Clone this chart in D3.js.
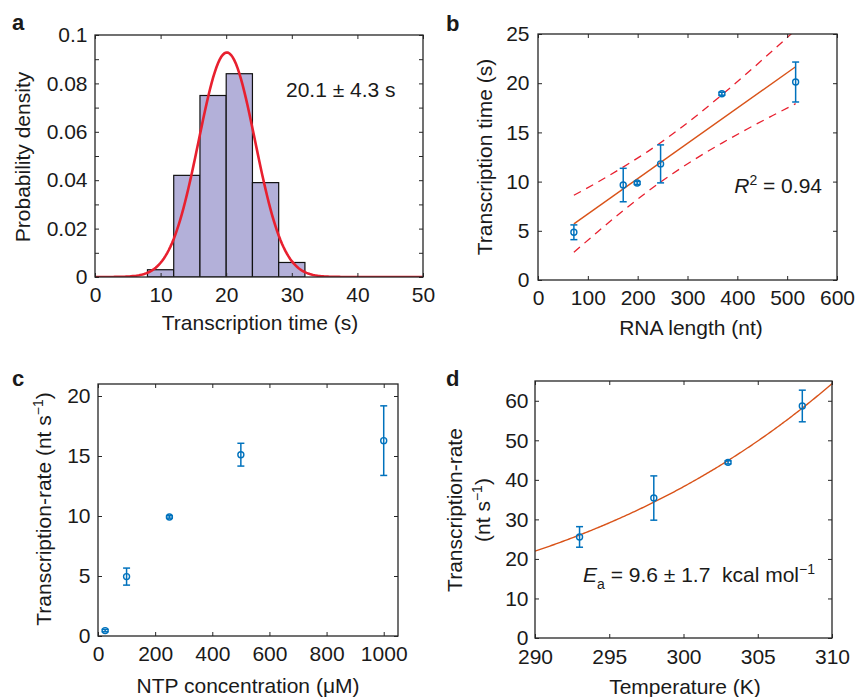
<!DOCTYPE html>
<html>
<head>
<meta charset="utf-8">
<script src="https://cdn.jsdelivr.net/npm/d3@7/dist/d3.min.js"></script>
<style>
  html, body { margin: 0; padding: 0; background: #fff; }
  svg { display: block; font-family: "Liberation Sans", Arial, Helvetica, sans-serif; }
  text { fill: #1a1a1a; }
</style>
</head>
<body>
<svg id="chart" width="857" height="697"></svg>
<script>
// ---------- Panel a: histogram of transcription time ----------
const histBinEdges = [8, 12, 16, 20, 24, 28, 32];
const histDensity = [0.003, 0.042, 0.075, 0.084, 0.039, 0.006];
const fitMean = 20.1;   // s (Gaussian fit, shown as 20.1 ± 4.3 s)
const fitSD = 4.3;
const aXTicks = [0, 10, 20, 30, 40, 50];
const aYTicks = [0, 0.01, 0.02, 0.03, 0.04, 0.05, 0.06, 0.07, 0.08, 0.09, 0.1];

// ---------- Panel b: transcription time vs RNA length ----------
const rnaLength = [72, 171, 199, 246, 369, 517];
const rnaTime = [4.85, 9.65, 9.86, 11.8, 18.93, 20.12];
const rnaTimeErr = [0.75, 1.7, 0.15, 1.93, 0.15, 2.03];
const rnaFitX = [72, 517];
const rnaFitY = [5.71, 21.67];
const bandX = [72, 120, 170, 220, 270, 320, 370, 420, 470, 517];
const bandUpper = [8.61, 9.95, 11.45, 13.05, 14.83, 16.78, 18.86, 21.03, 23.27, 25.42];
const bandLower = [2.81, 4.91, 7.01, 8.99, 10.80, 12.44, 13.94, 15.35, 16.69, 17.92];
const bXTicks = [0, 100, 200, 300, 400, 500, 600];
const bYTicks = [0, 5, 10, 15, 20, 25];

// ---------- Panel c: rate vs NTP concentration ----------
const ntpConc = [25, 100, 250, 500, 1000];
const ntpRate = [0.45, 4.95, 9.92, 15.11, 16.28];
const ntpErr = [0.1, 0.71, 0.1, 0.95, 2.9];
const cXTicks = [0, 200, 400, 600, 800, 1000];
const cYTicks = [0, 5, 10, 15, 20];

// ---------- Panel d: rate vs temperature (Arrhenius fit) ----------
const tempK = [293, 298, 303, 308];
const tempRate = [25.56, 35.4, 44.42, 58.68];
const tempErr = [2.6, 5.6, 0.4, 4.0];
const EaKcal = 9.6;          // kcal/mol
const fitRefT = 290, fitRefRate = 21.96;
const dXTicks = [290, 295, 300, 305, 310];
const dYTicks = [0, 10, 20, 30, 40, 50, 60];

const BLUE = "#0072BD", ORANGE = "#D95319", RED = "#E8202F", AXIS = "#262626";
const FS = 21;

const svg = d3.select("#chart");
svg.append("rect").attr("width", 857).attr("height", 697).attr("fill", "#fff");

let clipId = 0;
function panel(o) {
  const x = d3.scaleLinear().domain(o.xDomain).range([o.x0, o.x1]);
  const y = d3.scaleLinear().domain(o.yDomain).range([o.y1, o.y0]);
  const g = svg.append("g");
  const id = "clip" + (clipId++);
  g.append("clipPath").attr("id", id).append("rect")
    .attr("x", o.x0).attr("y", o.y0).attr("width", o.x1 - o.x0).attr("height", o.y1 - o.y0);
  const content = g.append("g").attr("clip-path", `url(#${id})`);
  const fmtY = o.yFormat || (v => String(v));
  const fmtX = o.xFormat || (v => String(v));
  const styleAxis = sel => {
    sel.select(".domain").remove();
    sel.selectAll(".tick line").attr("stroke", AXIS).attr("stroke-width", 1);
    sel.selectAll(".tick text").attr("font-size", FS).attr("fill", "#1a1a1a")
      .attr("font-family", "'Liberation Sans', Arial, Helvetica, sans-serif");
  };
  g.append("g").attr("transform", `translate(0,${o.y1})`)
    .call(d3.axisBottom(x).tickValues(o.xTicks).tickSize(-4).tickSizeOuter(0).tickPadding(o.xPad || 10).tickFormat(fmtX))
    .call(styleAxis);
  g.append("g").attr("transform", `translate(0,${o.y0})`)
    .call(d3.axisTop(x).tickValues(o.xTicks).tickSize(-4).tickSizeOuter(0).tickFormat(""))
    .call(styleAxis);
  g.append("g").attr("transform", `translate(${o.x0},0)`)
    .call(d3.axisLeft(y).tickValues(o.yTicks).tickSize(-4).tickSizeOuter(0).tickPadding(o.yPad || 7.5)
      .tickFormat(v => (o.yLabelTicks && !o.yLabelTicks.some(t => Math.abs(t - v) < 1e-9)) ? "" : fmtY(v)))
    .call(styleAxis);
  g.append("g").attr("transform", `translate(${o.x1},0)`)
    .call(d3.axisRight(y).tickValues(o.yTicks).tickSize(-4).tickSizeOuter(0).tickFormat(""))
    .call(styleAxis);
  const box = g.append("rect").attr("x", o.x0).attr("y", o.y0)
    .attr("width", o.x1 - o.x0).attr("height", o.y1 - o.y0)
    .attr("fill", "none").attr("stroke", AXIS).attr("stroke-width", 1.3);
  return { x, y, g, content, box };
}

function errorPoints(p, xs, ys, es) {
  const data = xs.map((v, i) => ({ x: v, y: ys[i], e: es[i] }));
  const eg = p.content.append("g").attr("stroke", BLUE).attr("stroke-width", 1.5).attr("fill", "none");
  data.forEach(d => {
    const cx = p.x(d.x), yt = p.y(d.y + d.e), yb = p.y(d.y - d.e);
    eg.append("line").attr("x1", cx).attr("x2", cx).attr("y1", yt).attr("y2", yb);
    eg.append("line").attr("x1", cx - 3.5).attr("x2", cx + 3.5).attr("y1", yt).attr("y2", yt);
    eg.append("line").attr("x1", cx - 3.5).attr("x2", cx + 3.5).attr("y1", yb).attr("y2", yb);
  });
  p.content.append("g").selectAll("circle").data(data).join("circle")
    .attr("cx", d => p.x(d.x)).attr("cy", d => p.y(d.y)).attr("r", 3)
    .attr("fill", "none").attr("stroke", BLUE).attr("stroke-width", 1.4);
}

function panelLabel(txt, x, y) {
  svg.append("text").attr("x", x).attr("y", y).attr("font-size", 22).attr("font-weight", "bold").text(txt);
}

// ================= Panel a =================
{
  const p = panel({ x0: 95, x1: 423, y0: 35, y1: 277, xDomain: [0, 50], yDomain: [0, 0.1],
    xTicks: aXTicks, yTicks: aYTicks, yLabelTicks: [0, 0.02, 0.04, 0.06, 0.08, 0.1],
    yFormat: v => v === 0 ? "0" : String(+v.toFixed(2)) });
  const bins = histDensity.map((d, i) => ({ a: histBinEdges[i], b: histBinEdges[i + 1], v: d }));
  p.content.insert("g", ":first-child").selectAll("rect").data(bins).join("rect")
    .attr("x", d => p.x(d.a)).attr("width", d => p.x(d.b) - p.x(d.a))
    .attr("y", d => p.y(d.v)).attr("height", d => p.y(0) - p.y(d.v))
    .attr("fill", "#B3B0D9").attr("stroke", "#111").attr("stroke-width", 1.2);
  const gx = d3.range(0, 50.001, 0.25);
  const gauss = t => Math.exp(-0.5 * ((t - fitMean) / fitSD) ** 2) / (fitSD * Math.sqrt(2 * Math.PI));
  p.content.append("path").datum(gx)
    .attr("d", d3.line().x(t => p.x(t)).y(t => p.y(gauss(t))))
    .attr("fill", "none").attr("stroke", RED).attr("stroke-width", 2.6);
  p.box.raise();
  svg.append("text").attr("x", 286).attr("y", 97).attr("font-size", FS).text("20.1 ± 4.3 s");
  svg.append("text").attr("transform", "translate(30,157) rotate(-90)").attr("text-anchor", "middle")
    .attr("font-size", FS).text("Probability density");
  svg.append("text").attr("x", 260).attr("y", 330).attr("text-anchor", "middle")
    .attr("font-size", FS).text("Transcription time (s)");
  panelLabel("a", 12, 30);
}

// ================= Panel b =================
{
  const p = panel({ x0: 538, x1: 837, y0: 34, y1: 280, xDomain: [0, 600], yDomain: [0, 25],
    xTicks: bXTicks, yTicks: bYTicks, yPad: 8.5 });
  const line = d3.line().curve(d3.curveMonotoneX);
  p.content.append("path").attr("d", line(bandX.map((v, i) => [p.x(v), p.y(bandUpper[i])])))
    .attr("fill", "none").attr("stroke", RED).attr("stroke-width", 1.3).attr("stroke-dasharray", "8,6");
  p.content.append("path").attr("d", line(bandX.map((v, i) => [p.x(v), p.y(bandLower[i])])))
    .attr("fill", "none").attr("stroke", RED).attr("stroke-width", 1.3).attr("stroke-dasharray", "8,6");
  p.content.append("path").attr("d", d3.line()(rnaFitX.map((v, i) => [p.x(v), p.y(rnaFitY[i])])))
    .attr("fill", "none").attr("stroke", ORANGE).attr("stroke-width", 1.4);
  errorPoints(p, rnaLength, rnaTime, rnaTimeErr);
  const t = svg.append("text").attr("x", 822).attr("y", 193).attr("text-anchor", "end").attr("font-size", FS);
  t.append("tspan").attr("font-style", "italic").text("R");
  t.append("tspan").attr("font-size", 14).attr("dy", -8).text("2");
  t.append("tspan").attr("dy", 8).text(" = 0.94");
  svg.append("text").attr("transform", "translate(492,157) rotate(-90)").attr("text-anchor", "middle")
    .attr("font-size", FS).text("Transcription time (s)");
  svg.append("text").attr("x", 691).attr("y", 335).attr("text-anchor", "middle")
    .attr("font-size", FS).text("RNA length (nt)");
  panelLabel("b", 446, 31);
}

// ================= Panel c =================
{
  const p = panel({ x0: 98, x1: 398, y0: 384, y1: 636, xDomain: [0, 1050], yDomain: [0, 21],
    xTicks: cXTicks, yTicks: cYTicks, yPad: 7.5 });
  errorPoints(p, ntpConc, ntpRate, ntpErr);
  const t = svg.append("text").attr("transform", "translate(50.5,509) rotate(-90)").attr("text-anchor", "middle")
    .attr("font-size", FS);
  t.append("tspan").text("Transcription-rate (nt s");
  t.append("tspan").attr("font-size", 14).attr("dy", -8).text("−1");
  t.append("tspan").attr("dy", 8).text(")");
  svg.append("text").attr("x", 248).attr("y", 693).attr("text-anchor", "middle").attr("font-size", FS)
    .text("NTP concentration (μM)");
  panelLabel("c", 12, 386);
}

// ================= Panel d =================
{
  const p = panel({ x0: 535, x1: 832, y0: 381, y1: 638, xDomain: [290, 310], yDomain: [0, 65],
    xTicks: dXTicks, yTicks: dYTicks, yPad: 6.5, xPad: 11 });
  const Rgas = 1.987e-3; // kcal / (mol K)
  const arr = T => fitRefRate * Math.exp((EaKcal / Rgas) * (1 / fitRefT - 1 / T));
  const tx = d3.range(290, 310.001, 0.1);
  p.content.append("path").datum(tx)
    .attr("d", d3.line().x(T => p.x(T)).y(T => p.y(arr(T))))
    .attr("fill", "none").attr("stroke", ORANGE).attr("stroke-width", 1.4);
  errorPoints(p, tempK, tempRate, tempErr);
  const a = svg.append("text").attr("x", 583).attr("y", 582).attr("font-size", FS)
    .attr("style", "white-space: pre");
  a.append("tspan").attr("font-style", "italic").text("E");
  a.append("tspan").attr("font-size", 14).attr("dy", 7).text("a");
  a.append("tspan").attr("dy", -7).text(" = 9.6 ± 1.7  kcal mol");
  a.append("tspan").attr("font-size", 14).attr("dy", -8).text("−1");
  svg.append("text").attr("transform", "translate(462,510) rotate(-90)").attr("text-anchor", "middle")
    .attr("font-size", FS).text("Transcription-rate");
  const l2 = svg.append("text").attr("transform", "translate(490,510) rotate(-90)").attr("text-anchor", "middle")
    .attr("font-size", FS);
  l2.append("tspan").text("(nt s");
  l2.append("tspan").attr("font-size", 14).attr("dy", -8).text("−1");
  l2.append("tspan").attr("dy", 8).text(")");
  svg.append("text").attr("x", 685).attr("y", 694).attr("text-anchor", "middle")
    .attr("font-size", FS).text("Temperature (K)");
  panelLabel("d", 446, 386);
}
</script>
</body>
</html>
